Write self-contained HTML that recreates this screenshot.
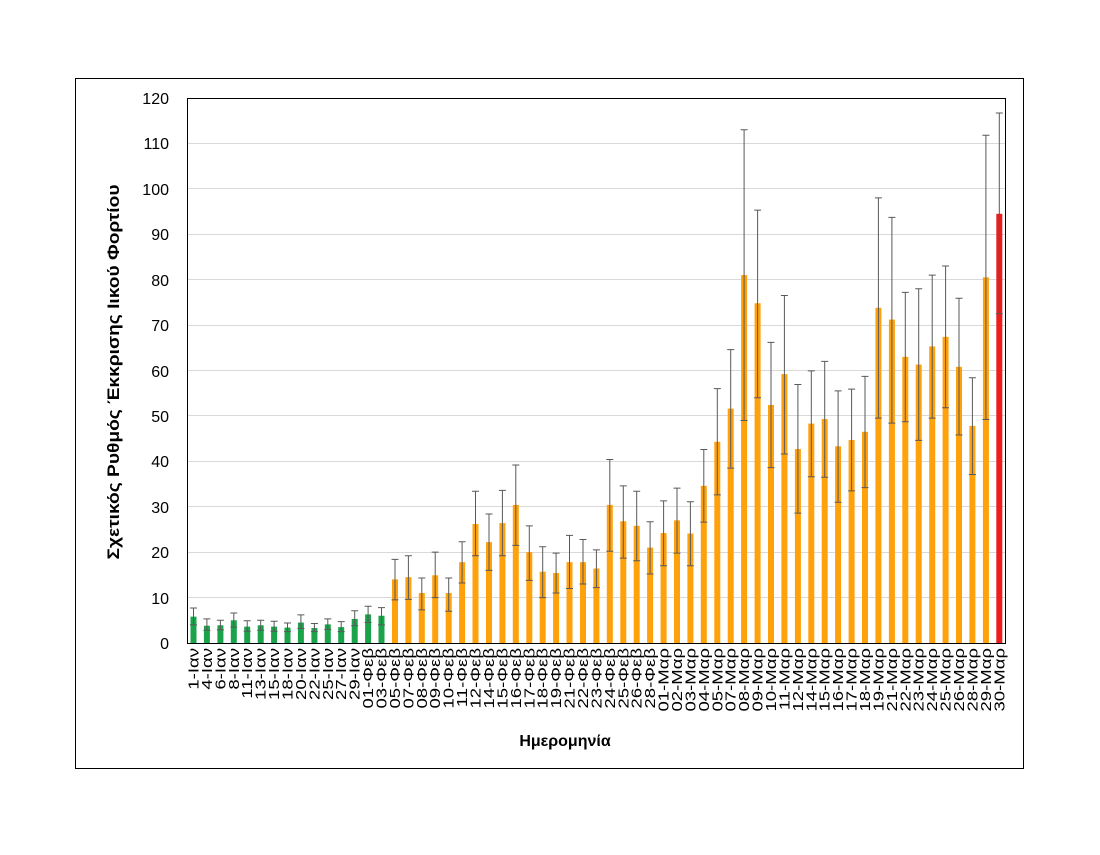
<!DOCTYPE html>
<html><head><meta charset="utf-8"><style>
body{margin:0;background:#fff;}
svg text{font-family:"Liberation Sans","DejaVu Sans",sans-serif;fill:#000;}
</style></head><body>
<svg width="1100" height="850" viewBox="0 0 1100 850" xmlns="http://www.w3.org/2000/svg">
<rect x="0" y="0" width="1100" height="850" fill="#fff"/>
<rect x="75.5" y="78.5" width="948" height="690" fill="none" stroke="#000" stroke-width="1"/>
<g stroke="#d9d9d9" stroke-width="1">
<line x1="187" x2="1005" y1="597.5" y2="597.5"/><line x1="187" x2="1005" y1="552.5" y2="552.5"/>
<line x1="187" x2="1005" y1="506.5" y2="506.5"/><line x1="187" x2="1005" y1="461.5" y2="461.5"/>
<line x1="187" x2="1005" y1="415.5" y2="415.5"/><line x1="187" x2="1005" y1="370.5" y2="370.5"/>
<line x1="187" x2="1005" y1="325.5" y2="325.5"/><line x1="187" x2="1005" y1="279.5" y2="279.5"/>
<line x1="187" x2="1005" y1="234.5" y2="234.5"/><line x1="187" x2="1005" y1="188.5" y2="188.5"/>
<line x1="187" x2="1005" y1="143.5" y2="143.5"/>
</g>
<g transform="translate(0,643) scale(1,-4.542)">
<g fill="#1aa34a">
<rect x="190.5" y="0" width="6" height="5.8"/><rect x="203.9" y="0" width="6" height="3.8"/><rect x="217.4" y="0" width="6" height="3.9"/><rect x="230.8" y="0" width="6" height="5"/><rect x="244.2" y="0" width="6" height="3.6"/><rect x="257.7" y="0" width="6" height="3.9"/><rect x="271.1" y="0" width="6" height="3.6"/><rect x="284.5" y="0" width="6" height="3.4"/><rect x="297.9" y="0" width="6" height="4.5"/><rect x="311.4" y="0" width="6" height="3.3"/><rect x="324.8" y="0" width="6" height="4.1"/><rect x="338.2" y="0" width="6" height="3.5"/><rect x="351.7" y="0" width="6" height="5.3"/><rect x="365.1" y="0" width="6" height="6.3"/><rect x="378.5" y="0" width="6" height="6"/>
</g>
<g fill="#ffa10a">
<rect x="392" y="0" width="6" height="14"/><rect x="405.4" y="0" width="6" height="14.5"/><rect x="418.8" y="0" width="6" height="11"/><rect x="432.2" y="0" width="6" height="14.9"/><rect x="445.7" y="0" width="6" height="11"/><rect x="459.1" y="0" width="6" height="17.8"/><rect x="472.5" y="0" width="6" height="26.2"/><rect x="486" y="0" width="6" height="22.2"/><rect x="499.4" y="0" width="6" height="26.4"/><rect x="512.8" y="0" width="6" height="30.4"/><rect x="526.3" y="0" width="6" height="20"/><rect x="539.7" y="0" width="6" height="15.7"/><rect x="553.1" y="0" width="6" height="15.4"/><rect x="566.5" y="0" width="6" height="17.8"/><rect x="580" y="0" width="6" height="17.8"/><rect x="593.4" y="0" width="6" height="16.4"/><rect x="606.8" y="0" width="6" height="30.4"/><rect x="620.3" y="0" width="6" height="26.8"/><rect x="633.7" y="0" width="6" height="25.8"/><rect x="647.1" y="0" width="6" height="21"/>
<rect x="660.6" y="0" width="6" height="24.2"/><rect x="674" y="0" width="6" height="27"/><rect x="687.4" y="0" width="6" height="24.1"/><rect x="700.8" y="0" width="6" height="34.6"/><rect x="714.3" y="0" width="6" height="44.3"/><rect x="727.7" y="0" width="6" height="51.6"/><rect x="741.1" y="0" width="6" height="81"/><rect x="754.6" y="0" width="6" height="74.8"/><rect x="768" y="0" width="6" height="52.4"/><rect x="781.4" y="0" width="6" height="59.2"/><rect x="794.9" y="0" width="6" height="42.7"/><rect x="808.3" y="0" width="6" height="48.3"/><rect x="821.7" y="0" width="6" height="49.3"/><rect x="835.1" y="0" width="6" height="43.3"/><rect x="848.6" y="0" width="6" height="44.7"/><rect x="862" y="0" width="6" height="46.5"/><rect x="875.4" y="0" width="6" height="73.8"/><rect x="888.9" y="0" width="6" height="71.2"/><rect x="902.3" y="0" width="6" height="63"/><rect x="915.7" y="0" width="6" height="61.3"/><rect x="929.2" y="0" width="6" height="65.3"/><rect x="942.6" y="0" width="6" height="67.4"/><rect x="956" y="0" width="6" height="60.8"/><rect x="969.4" y="0" width="6" height="47.8"/><rect x="982.9" y="0" width="6" height="80.5"/>
</g>
<rect x="996.3" y="0" width="6" height="94.5" fill="#ee1c1c"/>
<path fill="none" stroke="#595959" stroke-width="1" vector-effect="non-scaling-stroke" d="
M193.5 4V7.7M190 7.7H197M190 4H197
M206.9 2.8V5.3M203.4 5.3H210.4M203.4 2.8H210.4
M220.4 2.9V5M216.9 5H223.9M216.9 2.9H223.9
M233.8 3.5V6.6M230.3 6.6H237.3M230.3 3.5H237.3
M247.2 2.6V4.9M243.7 4.9H250.7M243.7 2.6H250.7
M260.7 2.8V5M257.2 5H264.2M257.2 2.8H264.2
M274.1 2.6V4.8M270.6 4.8H277.6M270.6 2.6H277.6
M287.5 2.5V4.4M284 4.4H291M284 2.5H291
M300.9 3.2V6.2M297.4 6.2H304.4M297.4 3.2H304.4
M314.4 2.5V4.3M310.9 4.3H317.9M310.9 2.5H317.9
M327.8 3V5.3M324.3 5.3H331.3M324.3 3H331.3
M341.2 2.5V4.7M337.7 4.7H344.7M337.7 2.5H344.7
M354.7 3.8V7.1M351.2 7.1H358.2M351.2 3.8H358.2
M368.1 4.5V8.1M364.6 8.1H371.6M364.6 4.5H371.6
M381.5 4V7.8M378 7.8H385M378 4H385
M395 9.5V18.4M391.5 18.4H398.5M391.5 9.5H398.5
M408.4 9.6V19.2M404.9 19.2H411.9M404.9 9.6H411.9
M421.8 7.3V14.3M418.3 14.3H425.3M418.3 7.3H425.3
M435.2 10V20M431.7 20H438.7M431.7 10H438.7
M448.7 7V14.3M445.2 14.3H452.2M445.2 7H452.2
M462.1 13.2V22.3M458.6 22.3H465.6M458.6 13.2H465.6
M475.5 19.2V33.4M472 33.4H479M472 19.2H479
M489 16V28.4M485.5 28.4H492.5M485.5 16H492.5
M502.4 19.2V33.6M498.9 33.6H505.9M498.9 19.2H505.9
M515.8 21.5V39.2M512.3 39.2H519.3M512.3 21.5H519.3
M529.3 13.8V25.8M525.8 25.8H532.8M525.8 13.8H532.8
M542.7 10V21.2M539.2 21.2H546.2M539.2 10H546.2
M556.1 11V19.8M552.6 19.8H559.6M552.6 11H559.6
M569.5 12V23.7M566 23.7H573M566 12H573
M583 13V22.8M579.5 22.8H586.5M579.5 13H586.5
M596.4 12.2V20.5M592.9 20.5H599.9M592.9 12.2H599.9
M609.8 20.2V40.4M606.3 40.4H613.3M606.3 20.2H613.3
M623.3 18.7V34.6M619.8 34.6H626.8M619.8 18.7H626.8
M636.7 18.1V33.4M633.2 33.4H640.2M633.2 18.1H640.2
M650.1 15.2V26.7M646.6 26.7H653.6M646.6 15.2H653.6
M663.6 17V31.3M660.1 31.3H667.1M660.1 17H667.1
M677 19.8V34.1M673.5 34.1H680.5M673.5 19.8H680.5
M690.4 17V31.1M686.9 31.1H693.9M686.9 17H693.9
M703.8 26.6V42.6M700.3 42.6H707.3M700.3 26.6H707.3
M717.3 32.6V56M713.8 56H720.8M713.8 32.6H720.8
M730.7 38.5V64.6M727.2 64.6H734.2M727.2 38.5H734.2
M744.1 49V113M740.6 113H747.6M740.6 49H747.6
M757.6 54V95.3M754.1 95.3H761.1M754.1 54H761.1
M771 38.6V66.2M767.5 66.2H774.5M767.5 38.6H774.5
M784.4 41.6V76.5M780.9 76.5H787.9M780.9 41.6H787.9
M797.9 28.6V56.9M794.4 56.9H801.4M794.4 28.6H801.4
M811.3 36.6V59.9M807.8 59.9H814.8M807.8 36.6H814.8
M824.7 36.5V62M821.2 62H828.2M821.2 36.5H828.2
M838.1 31V55.5M834.6 55.5H841.6M834.6 31H841.6
M851.6 33.5V55.9M848.1 55.9H855.1M848.1 33.5H855.1
M865 34.2V58.7M861.5 58.7H868.5M861.5 34.2H868.5
M878.4 49.5V98M874.9 98H881.9M874.9 49.5H881.9
M891.9 48.4V93.7M888.4 93.7H895.4M888.4 48.4H895.4
M905.3 48.7V77.2M901.8 77.2H908.8M901.8 48.7H908.8
M918.7 44.6V78M915.2 78H922.2M915.2 44.6H922.2
M932.2 49.5V81M928.7 81H935.7M928.7 49.5H935.7
M945.6 51.8V83M942.1 83H949.1M942.1 51.8H949.1
M959 45.8V75.9M955.5 75.9H962.5M955.5 45.8H962.5
M972.4 37.1V58.4M968.9 58.4H975.9M968.9 37.1H975.9
M985.9 49.2V111.8M982.4 111.8H989.4M982.4 49.2H989.4
M999.3 72.5V116.7M995.8 116.7H1002.8M995.8 72.5H1002.8"/>
</g>
<rect x="187.5" y="98.5" width="818" height="545" fill="none" stroke="#000" stroke-width="1"/>
<g font-size="16" text-anchor="end">
<text x="169" y="649">0</text><text x="169" y="604">10</text><text x="169" y="558">20</text><text x="169" y="513">30</text><text x="169" y="467">40</text><text x="169" y="422">50</text><text x="169" y="377">60</text><text x="169" y="331">70</text><text x="169" y="286">80</text><text x="169" y="240">90</text><text x="169" y="195">100</text><text x="169" y="149">110</text><text x="169" y="104">120</text>
</g>
<text transform="translate(119,372) rotate(-90)" text-anchor="middle" font-size="17" font-weight="bold" textLength="375" lengthAdjust="spacingAndGlyphs">Σχετικός Ρυθμός Έκκρισης Ιικού Φορτίου</text>
<text x="565" y="746" text-anchor="middle" font-size="16" font-weight="bold">Ημερομηνία</text>
<g font-size="14.5" text-anchor="end">
<text transform="translate(198.5,648) rotate(-90) scale(1.28,1)">1-Ιαν</text>
<text transform="translate(211.9,648) rotate(-90) scale(1.28,1)">4-Ιαν</text>
<text transform="translate(225.4,648) rotate(-90) scale(1.28,1)">6-Ιαν</text>
<text transform="translate(238.8,648) rotate(-90) scale(1.28,1)">8-Ιαν</text>
<text transform="translate(252.2,648) rotate(-90) scale(1.28,1)">11-Ιαν</text>
<text transform="translate(265.7,648) rotate(-90) scale(1.28,1)">13-Ιαν</text>
<text transform="translate(279.1,648) rotate(-90) scale(1.28,1)">15-Ιαν</text>
<text transform="translate(292.5,648) rotate(-90) scale(1.28,1)">18-Ιαν</text>
<text transform="translate(305.9,648) rotate(-90) scale(1.28,1)">20-Ιαν</text>
<text transform="translate(319.4,648) rotate(-90) scale(1.28,1)">22-Ιαν</text>
<text transform="translate(332.8,648) rotate(-90) scale(1.28,1)">25-Ιαν</text>
<text transform="translate(346.2,648) rotate(-90) scale(1.28,1)">27-Ιαν</text>
<text transform="translate(359.7,648) rotate(-90) scale(1.28,1)">29-Ιαν</text>
<text transform="translate(373.1,648) rotate(-90) scale(1.28,1)">01-Φεβ</text>
<text transform="translate(386.5,648) rotate(-90) scale(1.28,1)">03-Φεβ</text>
<text transform="translate(400,648) rotate(-90) scale(1.28,1)">05-Φεβ</text>
<text transform="translate(413.4,648) rotate(-90) scale(1.28,1)">07-Φεβ</text>
<text transform="translate(426.8,648) rotate(-90) scale(1.28,1)">08-Φεβ</text>
<text transform="translate(440.2,648) rotate(-90) scale(1.28,1)">09-Φεβ</text>
<text transform="translate(453.7,648) rotate(-90) scale(1.28,1)">10-Φεβ</text>
<text transform="translate(467.1,648) rotate(-90) scale(1.28,1)">11-Φεβ</text>
<text transform="translate(480.5,648) rotate(-90) scale(1.28,1)">12-Φεβ</text>
<text transform="translate(494,648) rotate(-90) scale(1.28,1)">14-Φεβ</text>
<text transform="translate(507.4,648) rotate(-90) scale(1.28,1)">15-Φεβ</text>
<text transform="translate(520.8,648) rotate(-90) scale(1.28,1)">16-Φεβ</text>
<text transform="translate(534.3,648) rotate(-90) scale(1.28,1)">17-Φεβ</text>
<text transform="translate(547.7,648) rotate(-90) scale(1.28,1)">18-Φεβ</text>
<text transform="translate(561.1,648) rotate(-90) scale(1.28,1)">19-Φεβ</text>
<text transform="translate(574.5,648) rotate(-90) scale(1.28,1)">21-Φεβ</text>
<text transform="translate(588,648) rotate(-90) scale(1.28,1)">22-Φεβ</text>
<text transform="translate(601.4,648) rotate(-90) scale(1.28,1)">23-Φεβ</text>
<text transform="translate(614.8,648) rotate(-90) scale(1.28,1)">24-Φεβ</text>
<text transform="translate(628.3,648) rotate(-90) scale(1.28,1)">25-Φεβ</text>
<text transform="translate(641.7,648) rotate(-90) scale(1.28,1)">26-Φεβ</text>
<text transform="translate(655.1,648) rotate(-90) scale(1.28,1)">28-Φεβ</text>
<text transform="translate(668.6,648) rotate(-90) scale(1.28,1)">01-Μαρ</text>
<text transform="translate(682,648) rotate(-90) scale(1.28,1)">02-Μαρ</text>
<text transform="translate(695.4,648) rotate(-90) scale(1.28,1)">03-Μαρ</text>
<text transform="translate(708.8,648) rotate(-90) scale(1.28,1)">04-Μαρ</text>
<text transform="translate(722.3,648) rotate(-90) scale(1.28,1)">05-Μαρ</text>
<text transform="translate(735.7,648) rotate(-90) scale(1.28,1)">07-Μαρ</text>
<text transform="translate(749.1,648) rotate(-90) scale(1.28,1)">08-Μαρ</text>
<text transform="translate(762.6,648) rotate(-90) scale(1.28,1)">09-Μαρ</text>
<text transform="translate(776,648) rotate(-90) scale(1.28,1)">10-Μαρ</text>
<text transform="translate(789.4,648) rotate(-90) scale(1.28,1)">11-Μαρ</text>
<text transform="translate(802.9,648) rotate(-90) scale(1.28,1)">12-Μαρ</text>
<text transform="translate(816.3,648) rotate(-90) scale(1.28,1)">14-Μαρ</text>
<text transform="translate(829.7,648) rotate(-90) scale(1.28,1)">15-Μαρ</text>
<text transform="translate(843.1,648) rotate(-90) scale(1.28,1)">16-Μαρ</text>
<text transform="translate(856.6,648) rotate(-90) scale(1.28,1)">17-Μαρ</text>
<text transform="translate(870,648) rotate(-90) scale(1.28,1)">18-Μαρ</text>
<text transform="translate(883.4,648) rotate(-90) scale(1.28,1)">19-Μαρ</text>
<text transform="translate(896.9,648) rotate(-90) scale(1.28,1)">21-Μαρ</text>
<text transform="translate(910.3,648) rotate(-90) scale(1.28,1)">22-Μαρ</text>
<text transform="translate(923.7,648) rotate(-90) scale(1.28,1)">23-Μαρ</text>
<text transform="translate(937.2,648) rotate(-90) scale(1.28,1)">24-Μαρ</text>
<text transform="translate(950.6,648) rotate(-90) scale(1.28,1)">25-Μαρ</text>
<text transform="translate(964,648) rotate(-90) scale(1.28,1)">26-Μαρ</text>
<text transform="translate(977.4,648) rotate(-90) scale(1.28,1)">28-Μαρ</text>
<text transform="translate(990.9,648) rotate(-90) scale(1.28,1)">29-Μαρ</text>
<text transform="translate(1004.3,648) rotate(-90) scale(1.28,1)">30-Μαρ</text>
</g>
</svg>
</body></html>
